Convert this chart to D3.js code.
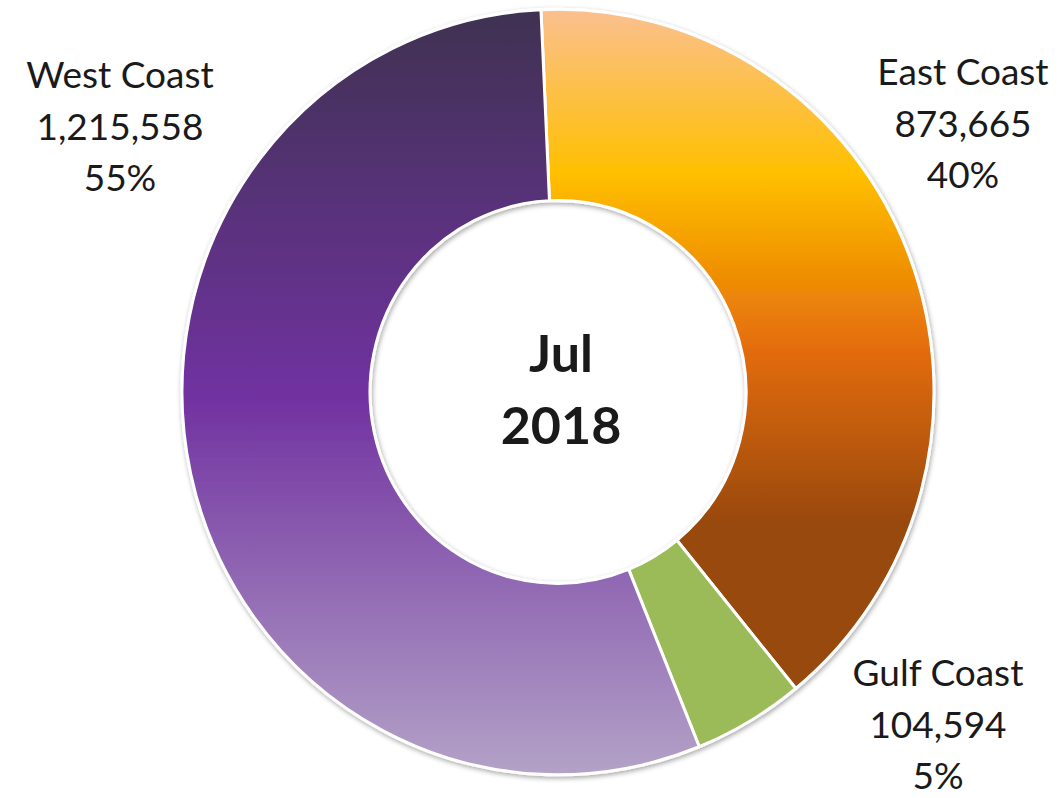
<!DOCTYPE html>
<html>
<head>
<meta charset="utf-8">
<script src="https://cdn.jsdelivr.net/npm/d3@7"></script>
<style>
  html, body { margin: 0; padding: 0; background: #fff; }
  svg { display: block; }
  text { font-family: Lato, "Open Sans", sans-serif; fill: #1a1a1a; }
</style>
</head>
<body>
<svg id="chart" width="1061" height="798"></svg>
<script>
const categories = ["East Coast", "Gulf Coast", "West Coast"];
const values = [873665, 104594, 1215558];
const percentLabels = ["40%", "5%", "55%"];
const centerLines = ["Jul", "2018"];

const width = 1061, height = 798;
const cx = 558, cy = 392, outerR = 376, innerR = 188, yStretch = 1.018;

const svg = d3.select("#chart");
const defs = svg.append("defs");

// gradients
const gradStops = {
  "East Coast": [[0, "#FAC090"], [0.24, "#FFC000"], [0.5, "#E46C0A"], [0.76, "#984807"], [1, "#984807"]],
  "Gulf Coast": [[0, "#9BBB59"], [1, "#9BBB59"]],
  "West Coast": [[0, "#3F3151"], [0.5, "#7030A0"], [1, "#B3A2C7"]]
};
categories.forEach((c, i) => {
  const g = defs.append("linearGradient").attr("id", "grad" + i)
    .attr("x1", 0).attr("y1", 0).attr("x2", 0).attr("y2", 1);
  gradStops[c].forEach(s => g.append("stop").attr("offset", s[0]).attr("stop-color", s[1]));
});

const f = defs.append("filter").attr("id", "shadow")
  .attr("x", "-10%").attr("y", "-10%").attr("width", "120%").attr("height", "120%");
f.append("feDropShadow").attr("dx", 1).attr("dy", 2).attr("stdDeviation", 2.5)
  .attr("flood-color", "#000").attr("flood-opacity", 0.35);

const startOffset = -2.6 * Math.PI / 180;
const pie = d3.pie().sort(null).value(d => d)
  .startAngle(startOffset).endAngle(startOffset + 2 * Math.PI);
const arcs = pie(values);
const arc = d3.arc().innerRadius(innerR).outerRadius(outerR);

const g = svg.append("g").attr("transform", `translate(${cx},${cy}) scale(1,${yStretch})`);
g.append("g").attr("filter", "url(#shadow)")
  .selectAll("path").data(arcs).join("path")
  .attr("d", arc)
  .attr("fill", (d, i) => `url(#grad${i})`)
  .attr("stroke", "#fff")
  .attr("stroke-width", 3)
  .attr("stroke-linejoin", "round");

// data labels
const fmt = d3.format(",");
const labelPos = {
  "East Coast": [963, 85],
  "Gulf Coast": [938, 686],
  "West Coast": [120, 88]
};
const lineH = 51.5;
categories.forEach((c, i) => {
  const [x, y] = labelPos[c];
  const t = svg.append("text").attr("text-anchor", "middle")
    .attr("font-size", 37);
  [c, fmt(values[i]), percentLabels[i]].forEach((s, k) => {
    t.append("tspan").attr("x", x).attr("y", y + k * lineH).text(s);
  });
});

// center text
const ct = svg.append("text").attr("text-anchor", "middle")
  .attr("font-size", 52).attr("font-weight", "bold");
centerLines.forEach((s, k) => {
  ct.append("tspan").attr("x", cx + 3).attr("y", 372 + k * 72).text(s);
});
</script>
</body>
</html>
